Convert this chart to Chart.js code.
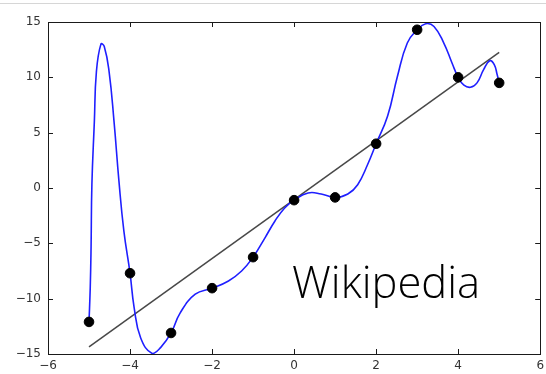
<!DOCTYPE html>
<html>
<head>
<meta charset="utf-8">
<script src="https://cdn.jsdelivr.net/npm/chart.js@4.4.1/dist/chart.umd.min.js"></script>
<style>
  html, body { margin: 0; padding: 0; background: #fff; }
  #wrap { position: relative; width: 546px; height: 374px; }
  #topline { position: absolute; left: 0; top: 3px; width: 546px; height: 1px; background: #d6d6d6; }
  canvas { position: absolute; left: 0; top: 0; }
</style>
</head>
<body>
<div id="wrap">
  <div id="topline"></div>
  <canvas id="chart" width="546" height="374"></canvas>
</div>
<script>
//sample points (black dots)
const sampleX = [-5, -4, -3, -2, -1, 0, 1, 2, 3, 4, 5];
const sampleY = [-12.1, -7.7, -13.1, -9.05, -6.25, -1.1, -0.85, 4.0, 14.3, 10.0, 9.5];
//least squares line
const fitX = [-5, 5];
const fitY = [-14.36, 12.26];
//interpolating curve
const curveX = [-5, -4.97, -4.95, -4.93, -4.87, -4.82, -4.71, -4.63, -4.51, -4.39, -4.27, -4.15, -4, -3.9, -3.74,
  -3.46, -3.25, -3, -2.78, -2.41, -2, -1.6, -1.28, -1, -0.71, -0.47, -0.23, 0, 0.34, 0.66, 1, 1.31,
  1.55, 1.79, 2, 2.28, 2.52, 2.76, 3, 3.21, 3.41, 3.65, 3.85, 4, 4.14, 4.3, 4.46, 4.62, 4.77, 4.88, 4.95, 5];
const curveY = [-12.1, -9.0, -5.4, 0.3, 6.0, 10.5, 13.0, 12.8, 10.5, 6.0, 0.6, -3.9, -7.7, -10.8, -13.55,
  -14.95, -14.4, -13.1, -11.3, -9.6, -9.05, -8.4, -7.5, -6.25, -4.5, -3.0, -1.8, -1.1, -0.45, -0.54, -0.85, -0.54,
  0.3, 2.1, 4.0, 6.5, 10.1, 13.1, 14.3, 14.85, 14.6, 13.1, 11.3, 10.0, 9.3, 9.1, 9.5, 10.7, 11.5, 11.15, 10.25, 9.5];
//tick labels
const xTicks = [-6, -4, -2, 0, 2, 4, 6];
const yTicks = [-15, -10, -5, 0, 5, 10, 15];
const watermark = "Wikipedia";

const toXY = (xs, ys) => xs.map((x, i) => ({ x: x, y: ys[i] }));
const fmt = (v) => (v < 0 ? "\u2212" + Math.abs(v) : String(v));

//frame box, inward ticks on all four sides, and the watermark
const framePlugin = {
  id: "frame",
  afterDraw(chart) {
    const ctx = chart.ctx;
    const a = chart.chartArea;
    const xs = chart.scales.x;
    const ys = chart.scales.y;
    const len = 5;
    ctx.save();
    ctx.strokeStyle = "#1a1a1a";
    ctx.lineWidth = 1;
    ctx.strokeRect(Math.round(a.left) + 0.5, Math.round(a.top) + 0.5,
      Math.round(a.right - a.left), Math.round(a.bottom - a.top));
    ctx.beginPath();
    for (let v of xTicks) {
      const px = Math.round(xs.getPixelForValue(v)) + 0.5;
      ctx.moveTo(px, a.top); ctx.lineTo(px, a.top + len);
      ctx.moveTo(px, a.bottom); ctx.lineTo(px, a.bottom - len);
    }
    for (let v of yTicks) {
      const py = Math.round(ys.getPixelForValue(v)) + 0.5;
      ctx.moveTo(a.left, py); ctx.lineTo(a.left + len, py);
      ctx.moveTo(a.right, py); ctx.lineTo(a.right - len, py);
    }
    ctx.stroke();
    //watermark text
    ctx.fillStyle = "#000";
    ctx.textBaseline = "alphabetic";
    ctx.textAlign = "left";
    let size = 44;
    ctx.font = "300 " + size + "px 'Open Sans', 'Noto Sans', sans-serif";
    const w = ctx.measureText(watermark).width;
    size = size * 188 / w;
    ctx.font = "300 " + size.toFixed(1) + "px 'Open Sans', 'Noto Sans', sans-serif";
    ctx.fillText(watermark, 292, 298);
    ctx.restore();
  },
};

new Chart(document.getElementById("chart"), {
  type: "scatter",
  plugins: [framePlugin],
  data: {
    datasets: [
      {
        label: "samples",
        data: toXY(sampleX, sampleY),
        backgroundColor: "#000",
        borderColor: "#000",
        pointRadius: 4.8,
        order: 0,
      },
      {
        label: "fit",
        data: toXY(fitX, fitY),
        showLine: true,
        borderColor: "rgba(40,40,40,0.85)",
        borderWidth: 1.5,
        pointRadius: 0,
        order: 2,
      },
      {
        label: "curve",
        data: toXY(curveX, curveY),
        showLine: true,
        borderColor: "#1f1fff",
        borderWidth: 1.6,
        pointRadius: 0,
        tension: 0.45,
        order: 1,
      },
    ],
  },
  options: {
    responsive: false,
    animation: false,
    layout: { padding: { top: 22, right: 2, left: 0, bottom: 0 } },
    plugins: { legend: { display: false }, tooltip: { enabled: false } },
    scales: {
      x: {
        type: "linear",
        min: xTicks[0],
        max: xTicks[xTicks.length - 1],
        afterBuildTicks: (s) => { s.ticks = xTicks.map((v) => ({ value: v })); },
        afterFit: (s) => { s.height = 20; s.paddingLeft = 0; s.paddingRight = 0; },
        grid: { display: false, drawTicks: false },
        border: { display: false },
        ticks: {
          padding: 5,
          color: "#333",
          font: { family: "'DejaVu Sans', sans-serif", size: 12 },
          callback: (v) => fmt(v),
          maxRotation: 0,
        },
      },
      y: {
        type: "linear",
        min: yTicks[0],
        max: yTicks[yTicks.length - 1],
        afterBuildTicks: (s) => { s.ticks = yTicks.map((v) => ({ value: v })); },
        afterFit: (s) => { s.width = 48; s.paddingTop = 0; s.paddingBottom = 0; },
        grid: { display: false, drawTicks: false },
        border: { display: false },
        ticks: {
          padding: 7,
          color: "#333",
          font: { family: "'DejaVu Sans', sans-serif", size: 12 },
          callback: (v) => fmt(v),
        },
      },
    },
  },
});
</script>
</body>
</html>
